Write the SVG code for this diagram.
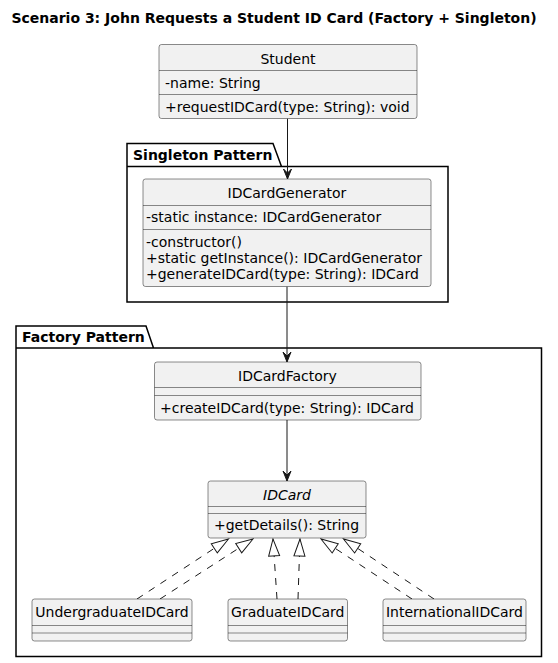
<svg xmlns="http://www.w3.org/2000/svg" width="558" height="663" viewBox="0 0 558 663">
<style>
text{font-family:"DejaVu Sans","Liberation Sans",sans-serif;font-size:14px;fill:#000}
.t{font-weight:bold}
.c{text-anchor:middle}
.i{font-style:italic}
.box{fill:#F1F1F1;stroke:#181818;stroke-width:0.5}
.sep{stroke:#181818;stroke-width:0.5}
.pkg{fill:none;stroke:#000;stroke-width:1.5}
.assoc{stroke:#181818;stroke-width:1;fill:none}
.real{stroke:#181818;stroke-width:1;fill:none;stroke-dasharray:7,7}
</style>
<defs>
<marker id="dart" markerUnits="userSpaceOnUse" viewBox="0 0 12 12" refX="11" refY="6" markerWidth="12" markerHeight="12" orient="auto">
<path d="M11,6 L1,2 L5,6 L1,10 Z" fill="#181818" stroke="#181818" stroke-width="1"/>
</marker>
<marker id="tri" markerUnits="userSpaceOnUse" viewBox="0 0 20 14" refX="18.5" refY="7" markerWidth="20" markerHeight="14" orient="auto">
<path d="M18.5,7 L1.5,1.5 L1.5,12.5 Z" fill="#FFFFFF" stroke="#181818" stroke-width="1" stroke-dasharray="none"/>
</marker>
</defs>
<rect width="558" height="663" fill="#FFFFFF"/>
<text class="t c" x="274" y="23">Scenario 3: John Requests a Student ID Card (Factory + Singleton)</text>

<g id="pkg-singleton">
<path class="pkg" d="M127,166.5 L127,143.5 L273,143.5 L281.5,166.5 M127,166.5 L448,166.5 L448,302 L127,302 Z"/>
<text class="t" x="133" y="160">Singleton Pattern</text>
</g>
<g id="pkg-factory">
<path class="pkg" d="M16,348 L16,326 L146,326 L153.5,348 M16,348 L541.5,348 L541.5,656.5 L16,656.5 Z"/>
<text class="t" x="22" y="342">Factory Pattern</text>
</g>

<g id="connectors">
<line class="assoc" x1="287.5" y1="118.5" x2="287.5" y2="179" marker-end="url(#dart)"/>
<line class="assoc" x1="287" y1="286.5" x2="287" y2="362" marker-end="url(#dart)"/>
<line class="assoc" x1="287" y1="420" x2="287" y2="481" marker-end="url(#dart)"/>
<line class="real" x1="137" y1="599" x2="228.5" y2="539" marker-end="url(#tri)"/>
<line class="real" x1="160" y1="599" x2="253" y2="539" marker-end="url(#tri)"/>
<line class="real" x1="277" y1="599" x2="273" y2="539" marker-end="url(#tri)"/>
<line class="real" x1="298" y1="599" x2="300" y2="539" marker-end="url(#tri)"/>
<line class="real" x1="412" y1="599" x2="321" y2="539" marker-end="url(#tri)"/>
<line class="real" x1="434" y1="599" x2="343.5" y2="539" marker-end="url(#tri)"/>
</g>

<g id="Student">
<rect class="box" x="159" y="44.5" width="258" height="74" rx="2.5"/>
<text class="c" x="288" y="63.5">Student</text>
<line class="sep" x1="159" y1="70.5" x2="417" y2="70.5"/>
<text x="165" y="88">-name: String</text>
<line class="sep" x1="159" y1="94.5" x2="417" y2="94.5"/>
<text x="165" y="112">+requestIDCard(type: String): void</text>
</g>

<g id="IDCardGenerator">
<rect class="box" x="143" y="179" width="288" height="107.5" rx="2.5"/>
<text class="c" x="287" y="198">IDCardGenerator</text>
<line class="sep" x1="143" y1="205.5" x2="431" y2="205.5"/>
<text x="146" y="221.5">-static instance: IDCardGenerator</text>
<line class="sep" x1="143" y1="229.5" x2="431" y2="229.5"/>
<text x="146" y="246.5">-constructor()</text>
<text x="146" y="262.5">+static getInstance(): IDCardGenerator</text>
<text x="146" y="278.5">+generateIDCard(type: String): IDCard</text>
</g>

<g id="IDCardFactory">
<rect class="box" x="154.5" y="362" width="266.5" height="58" rx="2.5"/>
<text class="c" x="287.5" y="381">IDCardFactory</text>
<line class="sep" x1="154.5" y1="387.5" x2="421" y2="387.5"/>
<line class="sep" x1="154.5" y1="395.5" x2="421" y2="395.5"/>
<text x="160" y="412.5">+createIDCard(type: String): IDCard</text>
</g>

<g id="IDCard">
<rect class="box" x="208" y="481" width="158" height="57" rx="2.5"/>
<text class="c i" x="287" y="500">IDCard</text>
<line class="sep" x1="208" y1="506.5" x2="366" y2="506.5"/>
<line class="sep" x1="208" y1="513.5" x2="366" y2="513.5"/>
<text x="214" y="530">+getDetails(): String</text>
</g>

<g id="UndergraduateIDCard">
<rect class="box" x="32" y="599" width="160" height="42" rx="2.5"/>
<text class="c" x="112" y="617">UndergraduateIDCard</text>
<line class="sep" x1="32" y1="625.5" x2="192" y2="625.5"/>
<line class="sep" x1="32" y1="633" x2="192" y2="633"/>
</g>

<g id="GraduateIDCard">
<rect class="box" x="228" y="599" width="119.5" height="42" rx="2.5"/>
<text class="c" x="287.75" y="617">GraduateIDCard</text>
<line class="sep" x1="228" y1="625.5" x2="347.5" y2="625.5"/>
<line class="sep" x1="228" y1="633" x2="347.5" y2="633"/>
</g>

<g id="InternationalIDCard">
<rect class="box" x="383" y="599" width="143" height="42" rx="2.5"/>
<text class="c" x="454.5" y="617">InternationalIDCard</text>
<line class="sep" x1="383" y1="625.5" x2="526" y2="625.5"/>
<line class="sep" x1="383" y1="633" x2="526" y2="633"/>
</g>
</svg>
